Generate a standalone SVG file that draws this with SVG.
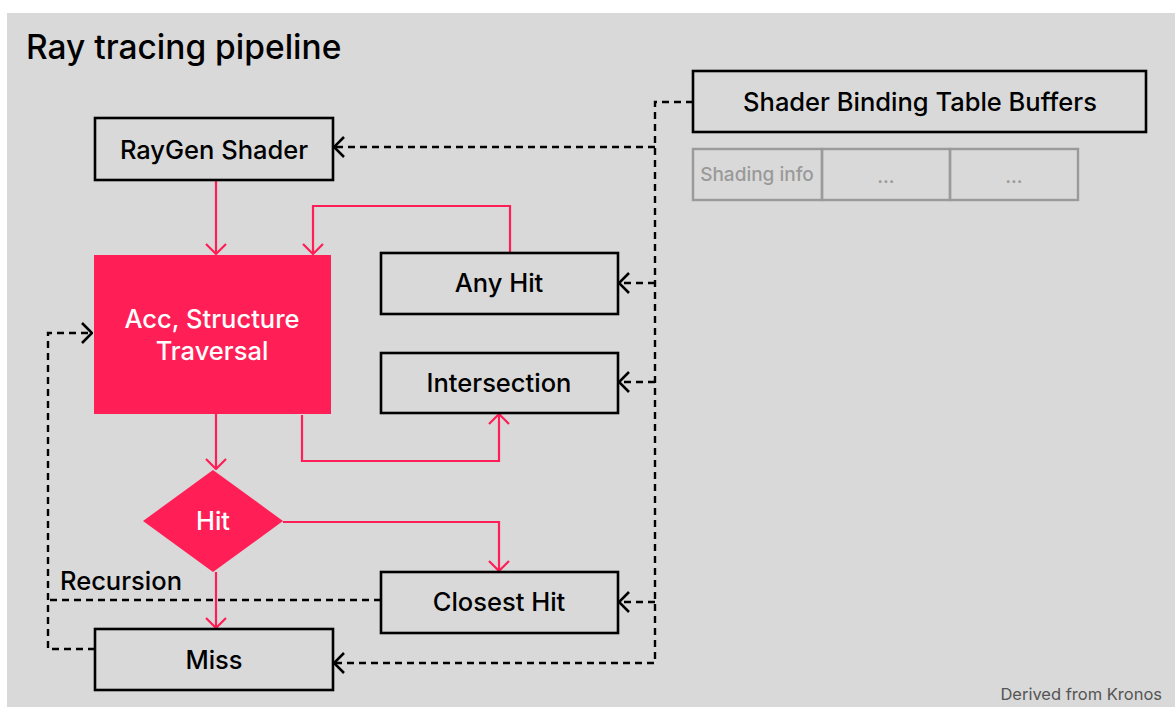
<svg xmlns="http://www.w3.org/2000/svg" width="1175" height="707" viewBox="0 0 1175 707">
  <style>
    .bg { fill: #d9d9d9; }
    .box { fill: none; stroke: #000; stroke-width: 2.6; }
    .cell { fill: none; stroke: #9a9a9a; stroke-width: 2.4; }
    .lbl { font-family: Inter, "Liberation Sans", sans-serif; font-size: 25.5px; font-weight: 500; fill: #000; text-anchor: middle; }
    .wlbl { font-family: Inter, "Liberation Sans", sans-serif; font-size: 25.5px; font-weight: 500; fill: #fff; text-anchor: middle; }
    .glbl { font-family: Inter, "Liberation Sans", sans-serif; font-size: 19px; font-weight: 500; fill: #9a9a9a; text-anchor: middle; }
    .flow { fill: none; stroke: #ff1e56; stroke-width: 2.2; }
    .dash { fill: none; stroke: #000; stroke-width: 2.4; stroke-dasharray: 7 5; }
  </style>
  <defs>
    <marker id="redArrow" viewBox="0 0 12 22" refX="11" refY="11" markerWidth="12" markerHeight="22" markerUnits="userSpaceOnUse" orient="auto">
      <path d="M1,1 L11,11 L1,21" fill="none" stroke="#ff1e56" stroke-width="2.2"/>
    </marker>
    <marker id="blackArrow" viewBox="0 0 12 22" refX="11" refY="11" markerWidth="12" markerHeight="22" markerUnits="userSpaceOnUse" orient="auto">
      <path d="M1,1 L11,11 L1,21" fill="none" stroke="#000" stroke-width="2.6" stroke-dasharray="none"/>
    </marker>
  </defs>

  <rect class="bg" x="7" y="13" width="1168" height="694"/>
  <text x="26" y="59" font-family="Inter, 'Liberation Sans', sans-serif" font-size="33.5" font-weight="500" fill="#000">Ray tracing pipeline</text>

  <g id="connectors">
    <!-- control flow -->
    <path class="flow" d="M216,180 V254" marker-end="url(#redArrow)"/>
    <path class="flow" d="M510,253 V206 H313 V254" marker-end="url(#redArrow)"/>
    <path class="flow" d="M302,415 V461 H499 V414" marker-end="url(#redArrow)"/>
    <path class="flow" d="M216,414 V469" marker-end="url(#redArrow)"/>
    <path class="flow" d="M283,522 H499 V571" marker-end="url(#redArrow)"/>
    <path class="flow" d="M216,572 V628" marker-end="url(#redArrow)"/>
    <!-- shader binding table lookups -->
    <path class="dash" d="M693,102 H655 V663 H334" marker-end="url(#blackArrow)"/>
    <path class="dash" d="M655,147 H334" marker-end="url(#blackArrow)"/>
    <path class="dash" d="M655,283 H619" marker-end="url(#blackArrow)"/>
    <path class="dash" d="M655,382 H619" marker-end="url(#blackArrow)"/>
    <path class="dash" d="M655,602 H619" marker-end="url(#blackArrow)"/>
    <!-- recursion -->
    <path class="dash" d="M381,600 H48"/>
    <path class="dash" d="M95,649 H48 V333 H92" marker-end="url(#blackArrow)"/>
  </g>

  <text x="60" y="590" font-family="Inter, 'Liberation Sans', sans-serif" font-size="25.5" font-weight="500" fill="#000">Recursion</text>

  <g id="raygen">
    <rect class="box" x="95" y="118" width="238" height="62"/>
    <text class="lbl" x="214" y="159">RayGen Shader</text>
  </g>

  <g id="traversal">
    <rect x="94" y="255" width="237" height="159" fill="#ff1e56"/>
    <text class="wlbl" x="212" y="328">Acc, Structure</text>
    <text class="wlbl" x="212" y="360">Traversal</text>
  </g>

  <g id="anyhit">
    <rect class="box" x="381" y="253" width="237" height="61"/>
    <text class="lbl" x="499" y="292">Any Hit</text>
  </g>

  <g id="intersection">
    <rect class="box" x="381" y="353" width="237" height="60"/>
    <text class="lbl" x="499" y="392">Intersection</text>
  </g>

  <g id="hit">
    <polygon points="213,470 283,521 213,572 143,521" fill="#ff1e56"/>
    <text class="wlbl" x="213" y="530">Hit</text>
  </g>

  <g id="closesthit">
    <rect class="box" x="381" y="572" width="237" height="61"/>
    <text class="lbl" x="499" y="611">Closest Hit</text>
  </g>

  <g id="miss">
    <rect class="box" x="95" y="629" width="238" height="61"/>
    <text class="lbl" x="214" y="669">Miss</text>
  </g>

  <g id="sbt">
    <rect class="box" x="693" y="71" width="453" height="61"/>
    <text class="lbl" x="920" y="111">Shader Binding Table Buffers</text>
  </g>

  <g id="sbt-records">
    <rect class="cell" x="693" y="149" width="129" height="51"/>
    <rect class="cell" x="822" y="149" width="128" height="51"/>
    <rect class="cell" x="950" y="149" width="128" height="51"/>
    <text class="glbl" x="757" y="181">Shading info</text>
    <text class="glbl" x="886" y="183">...</text>
    <text class="glbl" x="1014" y="183">...</text>
  </g>

  <text x="1162" y="700" font-family="Inter, 'Liberation Sans', sans-serif" font-size="16.5" fill="#555" text-anchor="end">Derived from Kronos</text>
</svg>
